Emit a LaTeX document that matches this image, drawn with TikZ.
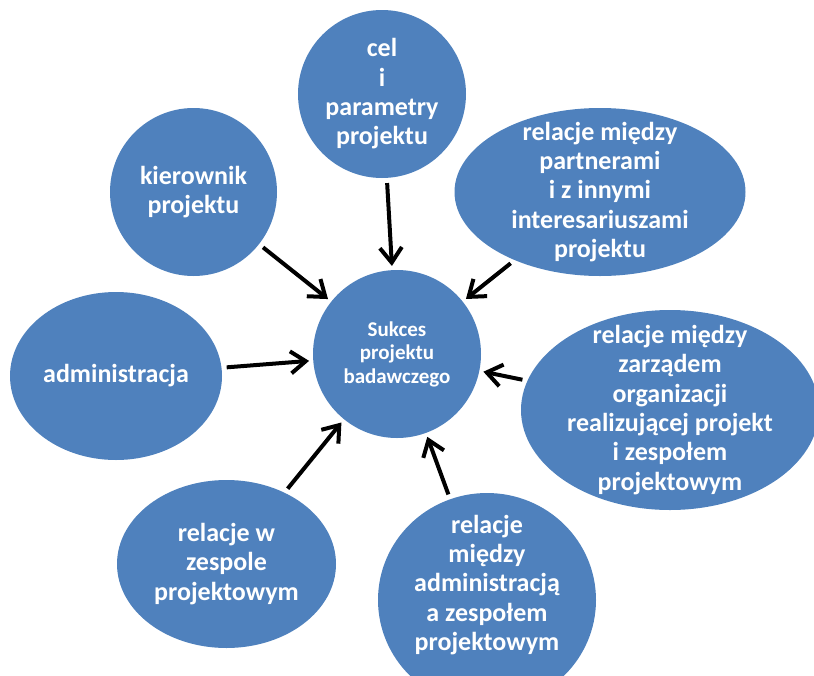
\documentclass[tikz,border=0pt]{standalone}
\usepackage{fontspec}
\setmainfont{Carlito}
\usepackage{xcolor}
\usetikzlibrary{arrows.meta,shapes.geometric}
\definecolor{BubbleBlue}{RGB}{79,129,189}
\tikzset{
  bubble/.style={ellipse,fill=BubbleBlue,inner sep=0pt},
  btext/.style={align=center,text=white,inner sep=0pt,
                font=\fontsize{26}{29.3}\selectfont\bfseries},
  ctext/.style={btext,font=\fontsize{21}{23.5}\selectfont\bfseries},
  feed/.style={-{Straight Barb[length=15pt,width=22pt]},line width=4pt,black,
               shorten <=5pt,shorten >=4pt},
}

\begin{document}
\begin{tikzpicture}[x=1pt,y=-1pt]
  \clip (0,0) rectangle (814,675);
  % shapes
  \node[bubble,minimum width=168pt,minimum height=168pt] (sukces) at (397,354) {};
  \node[bubble,minimum width=168pt,minimum height=168pt] (cel) at (382,94) {};
  \node[bubble,minimum width=167pt,minimum height=168pt] (kier) at (193.5,192) {};
  \node[bubble,minimum width=291pt,minimum height=168pt] (partn) at (600,192) {};
  \node[bubble,minimum width=212pt,minimum height=168pt] (admin) at (116,376) {};
  \node[bubble,minimum width=298pt,minimum height=200pt] (zarzad) at (670,410) {};
  \node[bubble,minimum width=219pt,minimum height=168pt] (zespol) at (226.5,564) {};
  \node[bubble,minimum width=218pt,minimum height=214pt] (admzesp) at (487,600) {};
  % texts
  \node[ctext] (sukces-t) at (sukces) {Sukces\\projektu\\badawczego};
  \node[btext] (cel-t) at (cel) {cel\\i\\parametry\\projektu};
  \node[btext] (kier-t) at (kier) {kierownik\\projektu};
  \node[btext] (partn-t) at (partn) {relacje między\\partnerami\\i z innymi\\interesariuszami\\projektu};
  \node[btext] (admin-t) at (admin) {administracja};
  \node[btext] (zarzad-t) at (zarzad) {relacje między\\zarządem\\organizacji\\realizującej projekt\\i zespołem\\projektowym};
  \node[btext] (zespol-t) at (zespol) {relacje w\\zespole\\projektowym};
  \node[btext] (admzesp-t) at (487,585) {relacje\\między\\administracją\\a zespołem\\projektowym};
  % arrows
  \draw[feed] (cel) -- (sukces);
  \draw[feed] (kier) -- (sukces);
  \draw[feed] (partn) -- (sukces);
  \draw[feed] (admin) -- (sukces);
  \draw[feed] (zarzad) -- (sukces);
  \draw[feed] (zespol) -- (sukces);
  \draw[feed] (admzesp) -- (sukces);
\end{tikzpicture}
\end{document}
